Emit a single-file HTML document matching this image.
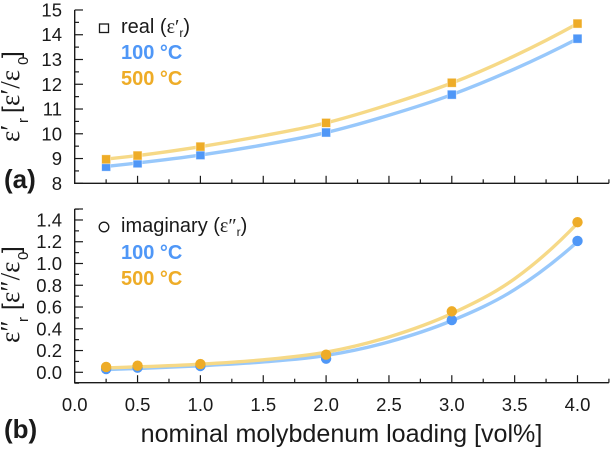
<!DOCTYPE html>
<html>
<head>
<meta charset="utf-8">
<style>
html,body{margin:0;padding:0;background:#fff}
svg{display:block}
text{font-family:"Liberation Sans",sans-serif;fill:#1a1a1a}
.sym{font-family:"Liberation Serif",serif}
</style>
</head>
<body>
<svg id="chart" width="611" height="450" viewBox="0 0 611 450" xmlns="http://www.w3.org/2000/svg">
  <g id="axes"></g>
  <g id="series"></g>

  <text x="4" y="188" font-size="26" font-weight="bold">(a)</text>
  <text x="4" y="438" font-size="26" font-weight="bold">(b)</text>

  <text transform="translate(19,142) rotate(-90)" font-size="24"><tspan class="sym" x="0" font-size="27">ε′</tspan><tspan font-size="15" x="19" dy="9">r</tspan><tspan x="29" dy="-9">[</tspan><tspan class="sym" x="36" font-size="27">ε′/ε</tspan><tspan font-size="15" x="77" dy="9">0</tspan><tspan x="84" dy="-9">]</tspan></text>
  <text transform="translate(19,343) rotate(-90)" font-size="24"><tspan class="sym" x="0" font-size="27">ε″</tspan><tspan font-size="15" x="21" dy="9">r</tspan><tspan x="33" dy="-9">[</tspan><tspan class="sym" x="40" font-size="27">ε″/ε</tspan><tspan font-size="15" x="83" dy="9">0</tspan><tspan x="90" dy="-9">]</tspan></text>
  <text x="341.5" y="442" font-size="25.1" text-anchor="middle">nominal molybdenum loading [vol%]</text>

  <g>
    <rect x="99.5" y="24" width="9" height="8.5" fill="#fff" stroke="#1a1a1a" stroke-width="1.3"/>
    <text x="121" y="33" font-size="20">real (<tspan class="sym">ε′</tspan><tspan font-size="12" dy="4">r</tspan><tspan dy="-4">)</tspan></text>
    <text x="121" y="59" font-size="20" font-weight="bold" style="fill:#4f97f7">100 °C</text>
    <text x="121" y="85" font-size="20" font-weight="bold" style="fill:#eeac27">500 °C</text>
  </g>
  <g>
    <circle cx="104" cy="227" r="4.8" fill="#fff" stroke="#1a1a1a" stroke-width="1.3"/>
    <text x="121" y="232" font-size="20">imaginary (<tspan class="sym">ε″</tspan><tspan font-size="12" dy="4">r</tspan><tspan dy="-4">)</tspan></text>
    <text x="121" y="259" font-size="20" font-weight="bold" style="fill:#4f97f7">100 °C</text>
    <text x="121" y="285" font-size="20" font-weight="bold" style="fill:#eeac27">500 °C</text>
  </g>
</svg>
<script>
var loadings = [0.25, 0.5, 1, 2, 3, 4];
var real100 = [8.67, 8.81, 9.14, 10.05, 11.58, 13.84];
var real500 = [8.97, 9.12, 9.48, 10.44, 12.06, 14.45];
var imag100 = [0.03, 0.042, 0.058, 0.125, 0.48, 1.207];
var imag500 = [0.049, 0.061, 0.076, 0.162, 0.56, 1.38];

var fitLoadings = [0.25, 0.5, 1, 1.5, 2, 2.5, 3, 3.5, 4];
var fitReal100 = [8.68, 8.82, 9.14, 9.55, 10.05, 10.75, 11.58, 12.62, 13.84];
var fitReal500 = [8.98, 9.12, 9.48, 9.92, 10.44, 11.18, 12.05, 13.15, 14.45];
var fitImag100 = [0.025, 0.035, 0.06, 0.095, 0.155, 0.28, 0.475, 0.76, 1.2];
var fitImag500 = [0.04, 0.05, 0.075, 0.115, 0.185, 0.325, 0.54, 0.86, 1.37];

var xTickLabels = ["0.0", "0.5", "1.0", "1.5", "2.0", "2.5", "3.0", "3.5", "4.0"];
var realTickLabels = ["8", "9", "10", "11", "12", "13", "14", "15"];
var imagTickLabels = ["0.0", "0.2", "0.4", "0.6", "0.8", "1.0", "1.2", "1.4"];

var NS = 'http://www.w3.org/2000/svg';
var axesG = document.getElementById('axes');
var seriesG = document.getElementById('series');

function xScale(v) { return 74.7 + v * 125.7; }
function yReal(v) { return 183.3 - (v - 8) * 24.76; }
function yImag(v) { return 372.3 - v * 108.8; }

function make(tag, parent, attrs) {
  var el = document.createElementNS(NS, tag);
  for (var k in attrs) el.setAttribute(k, attrs[k]);
  parent.appendChild(el);
  return el;
}

function axisLine(x1, y1, x2, y2, w, name) {
  var el = make('line', axesG, {x1: x1, y1: y1, x2: x2, y2: y2, stroke: '#1a1a1a', 'stroke-width': w});
  
  
}

function tickLabel(x, y, txt, anchor, name) {
  var el = make('text', axesG, {x: x, y: y, 'font-size': 18.5, 'text-anchor': anchor});
  el.textContent = txt;
  
  
}

function drawPanel(yFn, bottomY, topY, labels, firstVal, step, showXLabels, panel) {
  axisLine(74.7, topY, 74.7, bottomY + 0.6, 1.4, panel + '-y-axis');
  axisLine(74.1, bottomY, 608.9, bottomY, 1.4, panel + '-x-axis');
  labels.forEach(function (lab, i) {
    var v = firstVal + i * step;
    var y = yFn(v);
    axisLine(74.7, y, 83, y, 1.2, panel + '-y-tick-major');
    if (i < labels.length - 1 || panel === 'panel-b') {
      var ym = yFn(v + step / 2);
      axisLine(74.7, ym, 79, ym, 1.2, panel + '-y-tick-minor');
    }
    tickLabel(62, y + 6.5, lab, 'end', panel + '-y-tick-label');
  });
  if (panel === 'panel-b') {
    var ymb = yFn(firstVal - step / 2);
    axisLine(74.7, ymb, 79, ymb, 1.2, panel + '-y-tick-minor');
    axisLine(74.7, topY, 83, topY, 1.2, panel + '-y-tick-major');
  }
  xTickLabels.forEach(function (lab, i) {
    var v = parseFloat(lab);
    var x = xScale(v);
    if (i > 0) axisLine(x, bottomY, x, bottomY - 7.5, 1.2, panel + '-x-tick-major');
    var xm = xScale(v + 0.25);
    axisLine(xm, bottomY, xm, bottomY - 4, 1.2, panel + '-x-tick-minor');
    if (showXLabels) tickLabel(x, 411, lab, 'middle', 'x-tick-label');
  });
}

drawPanel(yReal, 183.3, 10, realTickLabels, 8, 1, false, 'panel-a');
drawPanel(yImag, 382.7, 209, imagTickLabels, 0, 0.2, true, 'panel-b');

/* cubic Hermite through the fit samples, tangents from local quadratics */
function curvePath(xs, ys, yFn) {
  var n = xs.length;
  var px = xs.map(xScale);
  var py = ys.map(yFn);
  var s = [];
  for (var i = 0; i < n - 1; i++) s.push((py[i + 1] - py[i]) / (px[i + 1] - px[i]));
  var m = [];
  for (var j = 1; j < n - 1; j++) {
    var h0 = px[j] - px[j - 1];
    var h1 = px[j + 1] - px[j];
    m[j] = (s[j - 1] * h1 + s[j] * h0) / (h0 + h1);
  }
  m[0] = 2 * s[0] - m[1];
  m[n - 1] = 2 * s[n - 2] - m[n - 2];
  var d = 'M' + px[0] + ' ' + py[0];
  for (var k = 0; k < n - 1; k++) {
    var h = (px[k + 1] - px[k]) / 3;
    d += ' C' + (px[k] + h) + ' ' + (py[k] + m[k] * h) +
         ' ' + (px[k + 1] - h) + ' ' + (py[k + 1] - m[k + 1] * h) +
         ' ' + px[k + 1] + ' ' + py[k + 1];
  }
  return d;
}

function drawFit(ys, yFn, color, name) {
  var el = make('path', seriesG, {d: curvePath(fitLoadings, ys, yFn), fill: 'none', stroke: color, 'stroke-width': 3.4});
  
  
}

function drawSquares(ys, yFn, color, name) {
  ys.forEach(function (v, i) {
    var cx = xScale(loadings[i]);
    var cy = yFn(v);
    var el = make('rect', seriesG, {x: cx - 4.5, y: cy - 4.5, width: 9, height: 9, fill: color, stroke: '#fff', 'stroke-opacity': 0.6, 'stroke-width': 0.8});
    
    
  });
}

function drawCircles(ys, yFn, color, name) {
  ys.forEach(function (v, i) {
    var el = make('circle', seriesG, {cx: xScale(loadings[i]), cy: yFn(v), r: 5.2, fill: color});
    
    
  });
}

drawFit(fitReal100, yReal, '#98c8fb', 'fit-line-real-100c');
drawFit(fitReal500, yReal, '#f6d987', 'fit-line-real-500c');
drawSquares(real100, yReal, '#4f97f7', 'point-real-100c');
drawSquares(real500, yReal, '#eeac27', 'point-real-500c');

drawFit(fitImag100, yImag, '#98c8fb', 'fit-line-imaginary-100c');
drawFit(fitImag500, yImag, '#f6d987', 'fit-line-imaginary-500c');
drawCircles(imag100, yImag, '#4f97f7', 'point-imaginary-100c');
drawCircles(imag500, yImag, '#eeac27', 'point-imaginary-500c');
</script>
</body>
</html>
